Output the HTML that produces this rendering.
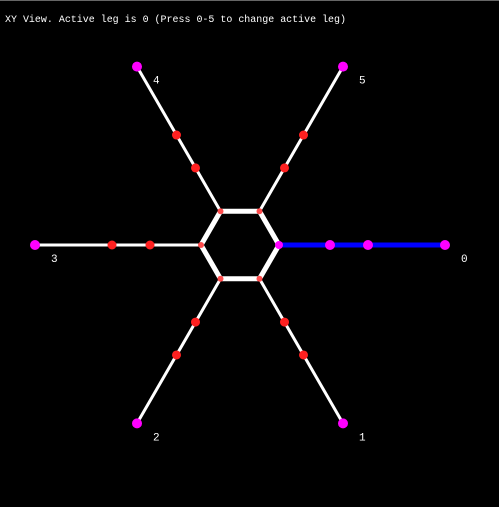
<!DOCTYPE html>
<html><head><meta charset="utf-8"><style>
html,body{margin:0;padding:0;background:#000;}
svg{display:block}
</style></head><body>
<svg id="c" width="499" height="507" xmlns="http://www.w3.org/2000/svg">
<rect x="0" y="0" width="499" height="507" fill="#000"/>
<rect x="0" y="0" width="499" height="1" fill="#666"/>
<text x="5" y="22" fill="#fff" font-family="Liberation Mono, DejaVu Sans Mono, monospace" font-size="9.8" textLength="341" lengthAdjust="spacingAndGlyphs">XY View. Active leg is 0 (Press 0-5 to change active leg)</text>
<g id="g"></g>
</svg>
<script>
const legIds = [0,1,2,3,4,5];
const legAngles = [0,60,120,180,240,300];
const coxaLen = [51,50,50,51,50,50];
const femurLen = [38,38,38,38,38,38];
const tibiaLen = [77,79,79,77,79,79];
const activeLeg = 0;
const cx=240, cy=245, bodyR=39;
const NS='http://www.w3.org/2000/svg';
const g=document.getElementById('g');
function mk(t,a){const e=document.createElementNS(NS,t);for(const k in a)e.setAttribute(k,a[k]);g.appendChild(e);return e;}
function pt(ang,r,ox,oy){const a=ang*Math.PI/180;return [ox+r*Math.cos(a),oy+r*Math.sin(a)];}
const legs=legIds.map((id,i)=>{
  const b=pt(legAngles[i],bodyR,cx,cy);
  const j1=pt(legAngles[i],coxaLen[i],b[0],b[1]);
  const j2=pt(legAngles[i],femurLen[i],j1[0],j1[1]);
  const f=pt(legAngles[i],tibiaLen[i],j2[0],j2[1]);
  return {id,b,j1,j2,f};
});
legs.forEach(L=>{
  const act=L.id===activeLeg;
  const l=mk('polyline',{points:[L.b,L.j1,L.j2,L.f].map(p=>p.join(',')).join(' '),fill:'none',stroke:act?'#0000ff':'#fff','stroke-width':act?5:3});
  
  
});
const hex=mk('polygon',{points:legs.map(L=>L.b.join(',')).join(' '),fill:'none',stroke:'#fff','stroke-width':5});


legs.forEach(L=>{
  const act=L.id===activeLeg;
  const bd=mk('circle',{cx:L.b[0],cy:L.b[1],r:act?4:3,fill:act?'#ff00ff':'#ff2020','fill-opacity':act?1:0.8});
  
  
  [L.j1,L.j2].forEach((p,k)=>{
    const c=mk('circle',{cx:p[0],cy:p[1],r:act?5:4.5,fill:act?'#ff00ff':'#ff2020'});
    
    
  });
  const f=mk('circle',{cx:L.f[0],cy:L.f[1],r:5,fill:'#ff00ff'});
  
  
  const t=mk('text',{x:L.f[0]+16,y:L.f[1]+17,fill:'#fff','font-family':'Liberation Mono, DejaVu Sans Mono, monospace','font-size':'11'});
  t.textContent=String(L.id);
  
  
});
</script>
</body></html>
